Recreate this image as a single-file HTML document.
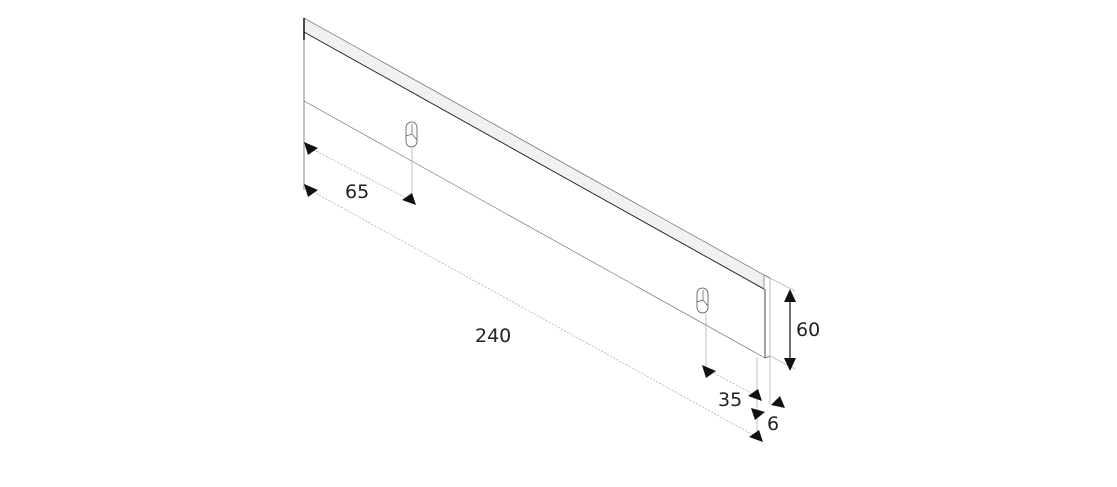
<!DOCTYPE html>
<html><head><style>body{margin:0;background:#fff}svg{display:block}text{font-family:"DejaVu Sans","Liberation Sans",sans-serif;font-size:19px;fill:#222}</style></head><body>
<svg width="1117" height="487" viewBox="0 0 1117 487">
<polygon points="304,18 764,275 764,289 304,32" fill="#f1f0f3" stroke="#555" stroke-width="0.6"/>
<line x1="304" y1="32" x2="764" y2="289" stroke="#222" stroke-width="0.9"/>
<line x1="304" y1="18" x2="304" y2="190" stroke="#666" stroke-width="0.8"/>
<line x1="304" y1="18" x2="304" y2="40" stroke="#111" stroke-width="1.5"/>
<line x1="304" y1="101" x2="765" y2="358" stroke="#666" stroke-width="0.6"/>
<line x1="765" y1="289" x2="765" y2="358" stroke="#444" stroke-width="1"/>
<line x1="770" y1="278" x2="770" y2="356" stroke="#aaa" stroke-width="0.8"/>
<line x1="764" y1="275" x2="770" y2="278" stroke="#666" stroke-width="0.8"/>
<line x1="765" y1="358" x2="770" y2="356" stroke="#666" stroke-width="0.8"/>
<g fill="#fff" stroke="#555" stroke-width="0.8">
<rect x="406" y="122" width="11" height="25" rx="5.5"/>
<rect x="697" y="288" width="11" height="25" rx="5.5"/>
</g>
<path d="M406,136 L412,134 L417,140 M412,134 L412,124" stroke="#555" stroke-width="0.7" fill="none"/>
<path d="M697,302 L703,300 L708,306 M703,300 L703,290" stroke="#555" stroke-width="0.7" fill="none"/>
<g stroke="#999" stroke-width="0.6" fill="none">
<line x1="412" y1="147" x2="412" y2="200"/>
<line x1="706" y1="313" x2="706" y2="370"/>
<line x1="757" y1="357" x2="757" y2="437"/>
<line x1="770" y1="357" x2="770" y2="405"/>
<line x1="770" y1="278" x2="795" y2="291"/>
<line x1="770" y1="356" x2="795" y2="369"/>
<line x1="310" y1="148" x2="410" y2="200" stroke-dasharray="2,1.5"/>
<line x1="310" y1="190" x2="757" y2="437" stroke-dasharray="2,1.5"/>
<line x1="708" y1="370" x2="757" y2="396" stroke-dasharray="2,1.5"/>
</g>
<line x1="790" y1="292" x2="790" y2="368" stroke="#111" stroke-width="1.2"/>
<g fill="#111">
<polygon points="304,142 318,148 308,155"/>
<polygon points="304,184 318,190 308,197"/>
<polygon points="416,205 402,200 412,193"/>
<polygon points="763,442 749,437 759,430"/>
<polygon points="702,365 716,371 706,378"/>
<polygon points="762,401 748,396 758,389"/>
<polygon points="751,408 765,412 755,420"/>
<polygon points="785,408 771,405 780,396"/>
<polygon points="790,289 784,302 796,302"/>
<polygon points="790,371 784,358 796,358"/>
</g>
<text x="345" y="198">65</text>
<text x="475" y="342">240</text>
<text x="718" y="406">35</text>
<text x="767" y="430">6</text>
<text x="796" y="336">60</text>
</svg>
</body></html>
